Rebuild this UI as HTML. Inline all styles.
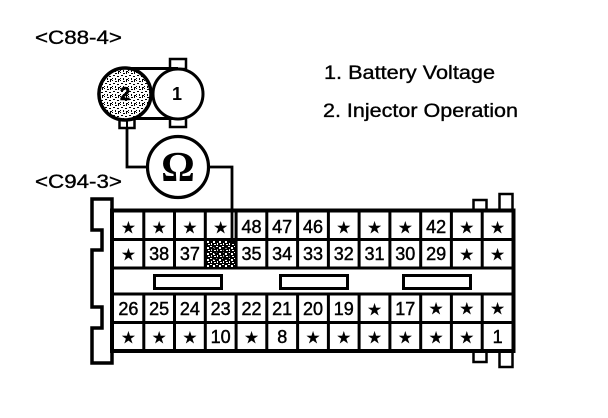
<!DOCTYPE html>
<html><head><meta charset="utf-8"><style>
html,body{margin:0;padding:0;background:#fff;width:608px;height:418px;overflow:hidden}
svg{display:block}
text{fill:#000;font-family:"Liberation Sans",sans-serif}
.n{font-size:18px;text-anchor:middle;stroke:#000;stroke-width:.45}
.s{font-family:"DejaVu Sans","Liberation Sans",sans-serif;font-size:16px;text-anchor:middle;stroke:#000;stroke-width:.3}
.l{font-size:19px;stroke:#000;stroke-width:.35}
</style></head><body>
<svg width="608" height="418" viewBox="0 0 608 418" xmlns="http://www.w3.org/2000/svg">
<defs>
<pattern id="d1" width="8" height="8" patternUnits="userSpaceOnUse"><rect width="8" height="8" fill="#fff"/><path d="M0 0h1v1H0zM3 1h2v1H3zM6 0h1v2H6zM1 3h2v1H1zM5 4h2v1H5zM0 6h1v1H0zM3 6h1v2H3zM6 7h2v1H6z" fill="#000"/></pattern>
<pattern id="d2" width="6" height="6" patternUnits="userSpaceOnUse"><rect width="6" height="6" fill="#000"/><path d="M0 0h2v1H0zM3 1h2v2H3zM1 3h1v2H1zM4 4h2v1H4z" fill="#fff"/></pattern>
</defs>
<text class="l" x="35" y="44" textLength="87" lengthAdjust="spacingAndGlyphs">&lt;C88-4&gt;</text>
<text class="l" x="35" y="188" textLength="87" lengthAdjust="spacingAndGlyphs">&lt;C94-3&gt;</text>
<text class="l" x="324" y="79" textLength="171" lengthAdjust="spacingAndGlyphs">1. Battery Voltage</text>
<text class="l" x="323" y="117" textLength="195" lengthAdjust="spacingAndGlyphs">2. Injector Operation</text>

<g fill="#fff" stroke="#000" stroke-width="2.500">
<rect x="170" y="59" width="16" height="10"/>
<rect x="170" y="117" width="16" height="10"/>
<rect x="119.500" y="118" width="15" height="10"/>
</g>
<line x1="127" y1="118" x2="127" y2="128" stroke="#000" stroke-width="2"/>
<path d="M126 68.500H178M126 118.500H178" stroke="#000" stroke-width="3" fill="none"/>
<circle cx="178" cy="94" r="25" fill="#fff" stroke="#000" stroke-width="3"/>
<circle cx="125" cy="94" r="26" fill="url(#d1)" stroke="#000" stroke-width="3.500"/>
<path d="M111 72A26 26 0 0 0 111 116" fill="none" stroke="#000" stroke-width="3"/>
<text x="125" y="100" font-size="18" font-weight="700" text-anchor="middle" stroke="#000" stroke-width=".6">2</text>
<text x="177" y="100" font-size="18" font-weight="700" text-anchor="middle">1</text>

<path d="M127 128V167H147M210 167H232V244" fill="none" stroke="#000" stroke-width="2.800"/>
<circle cx="178" cy="167" r="30.500" fill="#fff" stroke="#000" stroke-width="3.200"/>
<text x="178" y="181" font-size="42" font-weight="700" text-anchor="middle" style="font-family:'Liberation Serif',serif">Ω</text>

<path d="M112 199H92V230H102V250H92V307H102V328H92V363H112Z" fill="#fff" stroke="#000" stroke-width="3.500"/>
<g fill="#fff" stroke="#000" stroke-width="2.500">
<rect x="473.500" y="200" width="13" height="10"/>
<rect x="499.500" y="194" width="13" height="16"/>
<rect x="473.500" y="351" width="13" height="11"/>
<rect x="499.500" y="351" width="13" height="16"/>
</g>
<rect x="112" y="210.500" width="401.500" height="140.500" fill="#fff" stroke="#000" stroke-width="4"/>
<path d="M113 239.500H513M113 268H513M113 294H513M113 322.500H513" stroke="#000" stroke-width="3" fill="none"/>
<path d="M143.800 210V268M174.500 210V268M205.300 210V268M236.100 210V268M266.800 210V268M297.600 210V268M328.400 210V268M359.100 210V268M389.900 210V268M420.700 210V268M451.400 210V268M482.200 210V268M143.800 294V351M174.500 294V351M205.300 294V351M236.100 294V351M266.800 294V351M297.600 294V351M328.400 294V351M359.100 294V351M389.900 294V351M420.700 294V351M451.400 294V351M482.200 294V351" stroke="#000" stroke-width="3" fill="none"/>
<rect x="206.500" y="241" width="28.500" height="26" fill="url(#d2)"/>
<path d="M232 210V244" stroke="#000" stroke-width="2.800"/>
<g fill="#fff" stroke="#000" stroke-width="3">
<rect x="154.500" y="275.500" width="67" height="13"/>
<rect x="280.500" y="275.500" width="67" height="13"/>
<rect x="403.500" y="275.500" width="67" height="13"/>
</g>

<g>
<text class="s" x="128.400" y="233">★</text><text class="s" x="159.200" y="233">★</text><text class="s" x="189.900" y="233">★</text><text class="s" x="220.700" y="233">★</text>
<text class="s" x="343.800" y="233">★</text><text class="s" x="374.500" y="233">★</text><text class="s" x="405.300" y="233">★</text><text class="s" x="466.800" y="233">★</text><text class="s" x="497.600" y="233">★</text>
<text class="s" x="128.400" y="260">★</text><text class="s" x="466.800" y="260">★</text><text class="s" x="497.600" y="260">★</text>
<text class="s" x="374.500" y="315">★</text><text class="s" x="436.100" y="314">★</text><text class="s" x="466.800" y="314">★</text><text class="s" x="497.600" y="314">★</text>
<text class="s" x="128.400" y="343">★</text><text class="s" x="159.200" y="343">★</text><text class="s" x="189.900" y="343">★</text><text class="s" x="251.500" y="343">★</text>
<text class="s" x="313" y="343">★</text><text class="s" x="343.800" y="343">★</text><text class="s" x="374.500" y="343">★</text><text class="s" x="405.300" y="343">★</text><text class="s" x="436.100" y="343">★</text><text class="s" x="466.800" y="343">★</text>
</g>
<g>
<text class="n" x="251.500" y="233">48</text><text class="n" x="282.200" y="233">47</text><text class="n" x="313" y="233">46</text><text class="n" x="436.100" y="233">42</text>
<text class="n" x="159.200" y="260">38</text><text class="n" x="189.900" y="260">37</text><text class="n" x="220.700" y="260" style="fill:#000;stroke:none">36</text><text class="n" x="251.500" y="260">35</text><text class="n" x="282.200" y="260">34</text><text class="n" x="313" y="260">33</text><text class="n" x="343.800" y="260">32</text><text class="n" x="374.500" y="260">31</text><text class="n" x="405.300" y="260">30</text><text class="n" x="436.100" y="260">29</text>
<text class="n" x="128.400" y="315">26</text><text class="n" x="159.200" y="315">25</text><text class="n" x="189.900" y="315">24</text><text class="n" x="220.700" y="315">23</text><text class="n" x="251.500" y="315">22</text><text class="n" x="282.200" y="315">21</text><text class="n" x="313" y="315">20</text><text class="n" x="343.800" y="315">19</text><text class="n" x="405.300" y="315">17</text>
<text class="n" x="220.700" y="343">10</text><text class="n" x="282.200" y="343">8</text><text class="n" x="497.600" y="343">1</text>
</g>
</svg>
</body></html>
